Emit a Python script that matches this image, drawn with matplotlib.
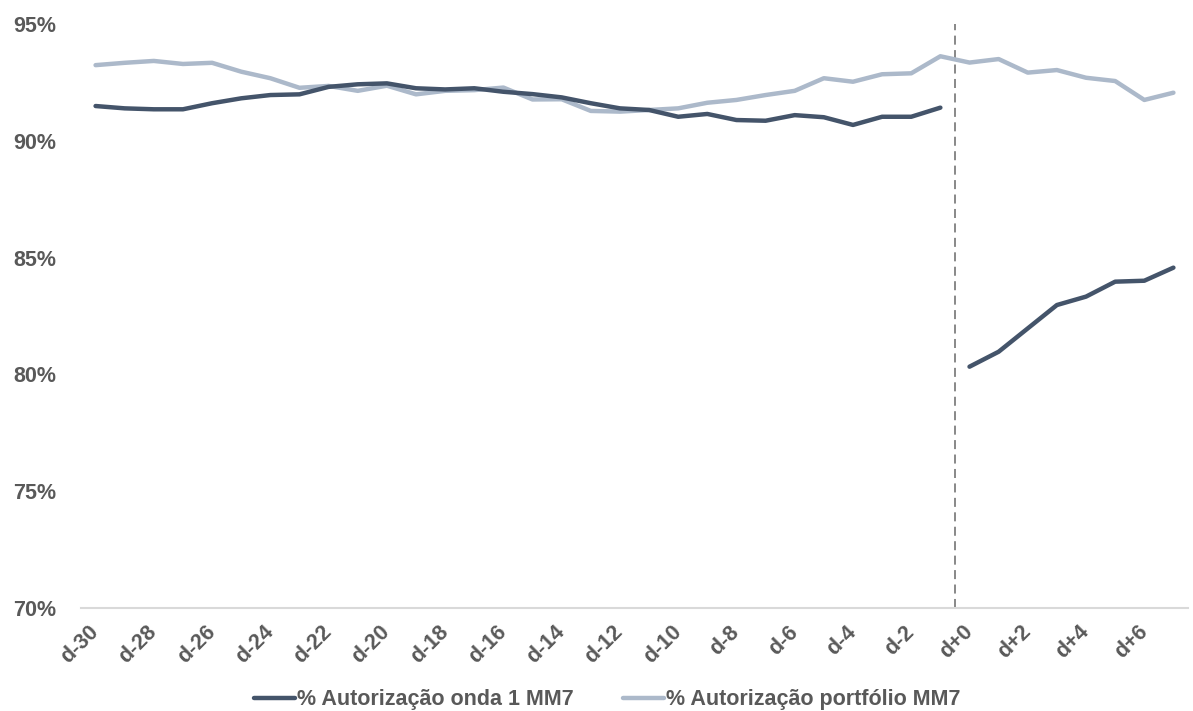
import matplotlib
matplotlib.use("Agg")
import matplotlib.pyplot as plt
import numpy as np

plt.rcParams['font.family'] = ['Liberation Sans', 'DejaVu Sans']

# Day labels relative to the switch date
dias = [f"d-{n}" for n in range(30, 0, -1)] + [f"d+{n}" for n in range(0, 8)]

# 7-day moving average of authorization rate (%), wave 1 — before and after the switch
onda1_antes = [91.49, 91.39, 91.35, 91.35, 91.61, 91.82, 91.96, 91.99, 92.31, 92.42,
               92.46, 92.25, 92.20, 92.25, 92.10, 92.00, 91.86, 91.61, 91.39, 91.32,
               91.03, 91.15, 90.89, 90.86, 91.10, 91.01, 90.68, 91.03, 91.03, 91.42]
onda1_depois = [80.33, 80.97, 81.97, 82.97, 83.33, 83.97, 84.01, 84.57]

# 7-day moving average of authorization rate (%), whole portfolio
portfolio = [93.24, 93.34, 93.42, 93.29, 93.34, 92.96, 92.68, 92.27, 92.35, 92.14,
             92.36, 91.99, 92.14, 92.17, 92.28, 91.77, 91.78, 91.28, 91.25, 91.32,
             91.39, 91.63, 91.75, 91.96, 92.14, 92.68, 92.53, 92.85, 92.89, 93.62,
             93.35, 93.50, 92.92, 93.03, 92.70, 92.56, 91.75, 92.06]

y_ticks = [70, 75, 80, 85, 90, 95]

COR_ONDA = "#44546a"
COR_PORT = "#acb9ca"
COR_TEXTO = "#595959"

fig = plt.figure(figsize=(11.93, 7.11), dpi=100)
ax = fig.add_axes([0.0679, 0.1449, 0.9279, 0.8213])

n_antes = len(onda1_antes)
x_all = np.arange(len(dias))
x_antes = x_all[:n_antes]
x_depois = x_all[n_antes:n_antes + len(onda1_depois)]

ax.plot(x_all, portfolio, color=COR_PORT, lw=3.2, solid_capstyle='round',
        solid_joinstyle='round', zorder=2, label="% Autorização portfólio MM7")
ax.plot(x_antes, onda1_antes, color=COR_ONDA, lw=3.2, solid_capstyle='round',
        solid_joinstyle='round', zorder=3, label="% Autorização onda 1 MM7")
ax.plot(x_depois, onda1_depois, color=COR_ONDA, lw=3.2, solid_capstyle='round',
        solid_joinstyle='round', zorder=3)

# switch date marker between d-1 and d+0
ax.axvline(n_antes - 0.5, color="#7f7f7f", lw=1.3, ls=(0, (5, 3)), zorder=1)

ax.set_xlim(-0.5, len(dias) - 0.5)
ax.set_ylim(70, 95)
ax.set_yticks(y_ticks)
ax.set_yticklabels([f"{v}%" for v in y_ticks])
ax.set_xticks(x_all[::2])
ax.set_xticklabels(dias[::2], rotation=45, ha='right', va='center',
                   rotation_mode='anchor')

for s in ['top', 'right', 'left']:
    ax.spines[s].set_visible(False)
ax.spines['bottom'].set_color("#d9d9d9")
ax.spines['bottom'].set_linewidth(1.5)

ax.tick_params(axis='y', length=0, pad=18, labelsize=15.5, labelcolor=COR_TEXTO)
ax.tick_params(axis='x', length=0, pad=15, labelsize=15.5, labelcolor=COR_TEXTO)
for lbl in ax.get_xticklabels() + ax.get_yticklabels():
    lbl.set_fontweight('bold')

handles, labels = ax.get_legend_handles_labels()
order = [1, 0]
leg = fig.legend([handles[i] for i in order], [labels[i] for i in order],
                 loc='center', bbox_to_anchor=(0.509, 0.016), ncol=2, frameon=False,
                 handlelength=1.9, handletextpad=0.1, columnspacing=2.3,
                 prop={'size': 15.5, 'weight': 'bold'})
for t in leg.get_texts():
    t.set_color(COR_TEXTO)

fig.savefig("out.png", dpi=100)
